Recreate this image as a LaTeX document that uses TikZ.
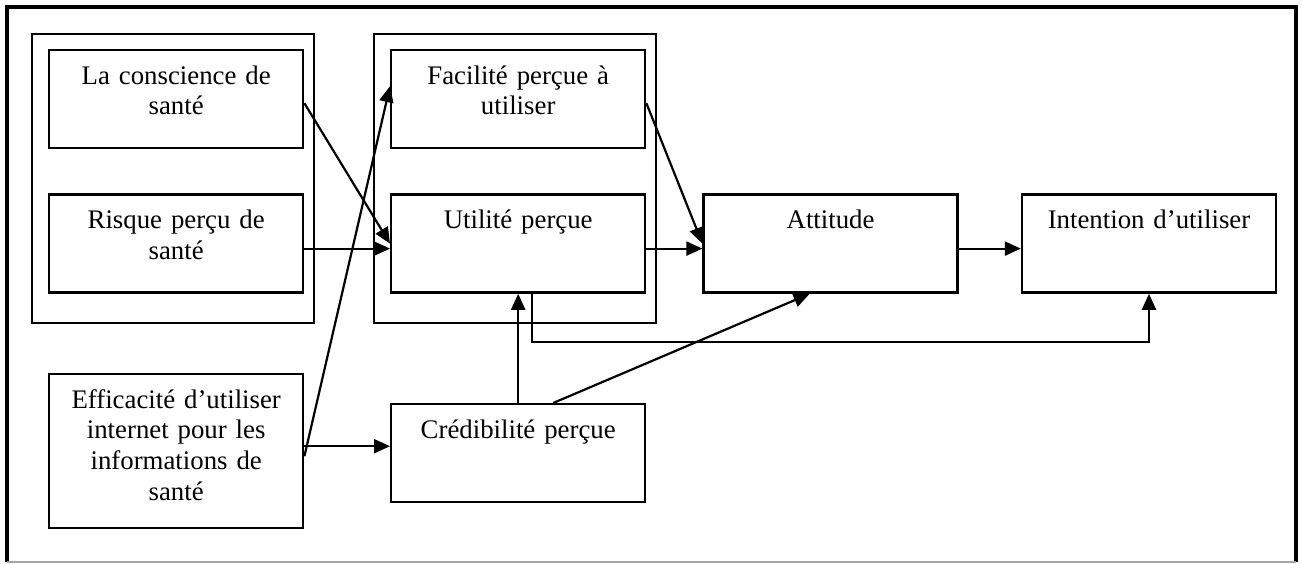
\documentclass[tikz,border=0pt]{standalone}
\usepackage{fontspec}
\setmainfont{Liberation Serif}
\usetikzlibrary{arrows.meta}
\usetikzlibrary{positioning}

\begin{document}
\begin{tikzpicture}[%
    x=0.5pt, y=-0.5pt,
    font=\fontsize{13.4}{15.3}\selectfont,
    block/.style={%
      draw,
      line width=1.2pt,
      inner sep=0pt,
      text width=127pt,
      align=center,
      text height=17pt,
      text depth=32pt,
    },
    group/.style={draw, line width=1.2pt},
    link/.style={line width=1.1pt, -{Triangle[length=8pt,width=7pt]}},
  ]
  \useasboundingbox (0,0) rectangle (1302,563);
  \draw [line width=1.6pt] (7,562) -- (7,7) -- (1296,7) -- (1296,562);
  \draw [gray!70, line width=0.6pt] (7,562) -- (1296,562);

  \draw [group] (32,34) rectangle (314,323);
  \draw [group] (374,34) rectangle (656,323);

  \node [block, anchor=north west] (conscience) at (48,49) {La conscience de\\santé};
  \node [block, below=22pt of conscience] (risque) {Risque perçu de\\santé};
  \node [block, anchor=north west, text depth=60pt] (efficacite) at (48,373)
    {Efficacité d’utiliser\\internet pour les\\informations de\\santé};

  \node [block, anchor=north west] (facilite) at (390,49) {Facilité perçue à\\utiliser};
  \node [block, below=22pt of facilite] (utilite) {Utilité perçue};
  \node [block, anchor=north west] (credibilite) at (390,403) {Crédibilité perçue};

  \node [block, right=28pt of utilite] (attitude) {Attitude};
  \node [block, right=31pt of attitude] (intention) {Intention d’utiliser};

  \draw [link] ([yshift=-2pt]conscience.east) -- (utilite.west);
  \draw [link] ([yshift=-2.5pt]risque.east) -- ([yshift=-2.5pt]utilite.west);
  \draw [link] ([yshift=-2.5pt]efficacite.east) -- ([yshift=6.5pt]facilite.west);
  \draw [link] ([yshift=2.5pt]efficacite.east) -- ([yshift=3.5pt]credibilite.west);
  \draw [link] ([yshift=-2pt]facilite.east) -- (attitude.west);
  \draw [link] ([yshift=-2.5pt]utilite.east) -- ([yshift=-2.5pt]attitude.west);
  \draw [link] ([yshift=-2.5pt]attitude.east) -- ([yshift=-2.5pt]intention.west);
  \draw [link] (credibilite.north) -- (utilite.south);
  \draw [link] ([xshift=17.5pt]credibilite.north) -- ([xshift=-10.5pt]attitude.south);
  \coordinate (detour) at (531,342);
  \draw [link] ([xshift=7pt]utilite.south) |- (detour) -| (intention.south);
\end{tikzpicture}
\end{document}
